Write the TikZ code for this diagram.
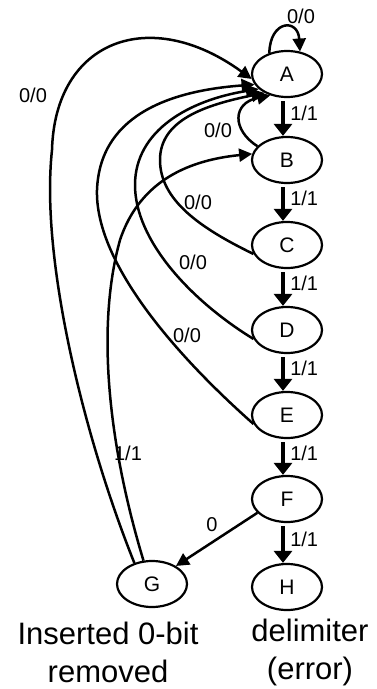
\documentclass[tikz,border=0pt]{standalone}
\usepackage{fontspec}
\setmainfont{Liberation Sans}
\usetikzlibrary{arrows.meta,shapes.geometric}

\begin{document}
	\begin{tikzpicture}[x=1pt,y=-1pt,
		state/.style={ellipse,draw,line width=2.2pt,minimum width=70pt,minimum height=46pt,inner sep=0pt,font=\fontsize{21}{25}\selectfont},
		move/.style={line width=2.5pt,-{Triangle[length=13pt,width=13pt]}},
		bit/.style={line width=4.5pt,-{Triangle[length=12pt,width=18pt]},shorten <=3pt},
		lbl/.style={inner sep=0pt,font=\fontsize{20}{24}\selectfont},
		caption/.style={align=center,inner sep=0pt,font=\fontsize{31}{38}\selectfont}]
		\useasboundingbox (0,0) rectangle (377,689);
		\node[state] (A) at (287,74) {A};
		\node[state] (B) at (287,160) {B};
		\node[state] (C) at (287,245) {C};
		\node[state] (D) at (287,330) {D};
		\node[state] (E) at (287,415) {E};
		\node[state] (F) at (287,499) {F};
		\node[state] (H) at (287,587) {H};
		\node[state] (G) at (152,584) {G};
		\foreach \u/\v in {A/B,B/C,C/D,D/E,E/F,F/H}
			\draw[bit] ([xshift=-4pt]\u.south) -- node[lbl,right=5pt,pos=0.4] (one\u) {1/1} ([xshift=-4pt]\v.north);
		\draw[move] (A.130) .. controls (270,20) and (298,18) .. (A.60);
		\draw[move] (B.155) .. controls (232,130) and (232,103) .. (A.232);
		\draw[move] (C.195) .. controls (200,228) and (160,200) .. (160,160) .. controls (160,120) and (205,105) .. (A.220);
		\draw[move] (D.195) .. controls (190,300) and (135,240) .. (135,185) .. controls (135,130) and (190,100) .. (A.208);
		\draw[move] (E.195) .. controls (170,350) and (95,260) .. (97,190) .. controls (100,110) and (180,90) .. (A.198);
		\draw[move] (G.130) .. controls (85,440) and (40,260) .. (52,150) .. controls (55,40) and (150,5) .. (A.188);
		\draw[move] (G.110) .. controls (110,450) and (95,330) .. (120,240) .. controls (140,180) and (190,160) .. (B.170);
		\draw[move] (F.205) -- (G.37);
		\node[lbl] (zA) at (301,16) {0/0};
		\node[lbl] (zB) at (218,130) {0/0};
		\node[lbl] (zC) at (198,202) {0/0};
		\node[lbl] (zD) at (193,262) {0/0};
		\node[lbl] (zE) at (187,335) {0/0};
		\node[lbl] (zG) at (33,95) {0/0};
		\node[lbl] (oG) at (128,453) {1/1};
		\node[lbl] (zF) at (212,525) {0};
		\node[caption] (capG) at (108,652) {Inserted 0-bit\\removed};
		\node[caption] (capH) at (310,652) {delimiter\\(error)};
	\end{tikzpicture}
\end{document}
